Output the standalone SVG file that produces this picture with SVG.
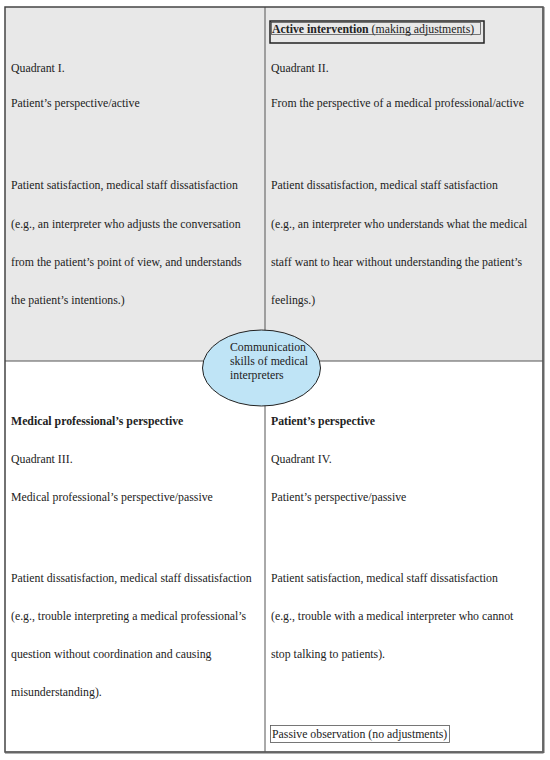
<svg xmlns="http://www.w3.org/2000/svg" width="550" height="760" viewBox="0 0 550 760">
<style>
text{font-family:"Liberation Serif","Times New Roman",serif;font-size:11.8px;fill:#222}
.b{font-weight:bold}
.grid{stroke:#555;stroke-width:1;fill:none}
</style>
<rect x="0" y="0" width="550" height="760" fill="#fff"/>
<g id="quadrants">
<rect x="5" y="7" width="538" height="354" fill="#e8e8e8"/>
<rect x="5" y="361" width="538" height="391" fill="#fff"/>
</g>
<g id="connectors">
<line class="grid" x1="265" y1="7" x2="265" y2="752"/>
<line class="grid" x1="5" y1="361" x2="543" y2="361"/>
<rect x="5" y="7" width="538" height="745" fill="none" stroke="#444" stroke-width="1.5"/>
<line x1="5" y1="752.5" x2="543.5" y2="752.5" stroke="#666" stroke-width="2"/>
<line x1="543.5" y1="7" x2="543.5" y2="753" stroke="#666" stroke-width="2"/>
</g>
<g id="q1">
<text x="11" y="72">Quadrant I.</text>
<text x="11" y="107">Patient’s perspective/active</text>
<text x="11" y="189">Patient satisfaction, medical staff dissatisfaction</text>
<text x="11" y="228">(e.g., an interpreter who adjusts the conversation</text>
<text x="11" y="266">from the patient’s point of view, and understands</text>
<text x="11" y="304">the patient’s intentions.)</text>
</g>
<g id="q2">
<rect x="270" y="21" width="214" height="22" fill="none" stroke="#222" stroke-width="1.5"/>
<rect x="271.5" y="22.5" width="209" height="12" fill="none" stroke="#444" stroke-width="0.7"/>
<text x="272" y="33"><tspan class="b">Active intervention</tspan> (making adjustments)</text>
<text x="271" y="72">Quadrant II.</text>
<text x="271" y="107">From the perspective of a medical professional/active</text>
<text x="271" y="189">Patient dissatisfaction, medical staff satisfaction</text>
<text x="271" y="228">(e.g., an interpreter who understands what the medical</text>
<text x="271" y="266">staff want to hear without understanding the patient’s</text>
<text x="271" y="304">feelings.)</text>
</g>
<g id="q3">
<text x="11" y="425" class="b">Medical professional’s perspective</text>
<text x="11" y="463">Quadrant III.</text>
<text x="11" y="501">Medical professional’s perspective/passive</text>
<text x="11" y="582">Patient dissatisfaction, medical staff dissatisfaction</text>
<text x="11" y="620">(e.g., trouble interpreting a medical professional’s</text>
<text x="11" y="658">question without coordination and causing</text>
<text x="11" y="696">misunderstanding).</text>
</g>
<g id="q4">
<text x="271" y="425" class="b">Patient’s perspective</text>
<text x="271" y="463">Quadrant IV.</text>
<text x="271" y="501">Patient’s perspective/passive</text>
<text x="271" y="582">Patient satisfaction, medical staff dissatisfaction</text>
<text x="271" y="620">(e.g., trouble with a medical interpreter who cannot</text>
<text x="271" y="658">stop talking to patients).</text>
<rect x="270.5" y="725.5" width="179" height="17" fill="none" stroke="#555" stroke-width="0.8"/>
<text x="272" y="738">Passive observation (no adjustments)</text>
</g>
<g id="center">
<ellipse cx="261.5" cy="368" rx="59" ry="38" fill="#bfe4f6" stroke="#222" stroke-width="1"/>
<text x="230" y="351">Communication</text>
<text x="230" y="365">skills of medical</text>
<text x="230" y="379">interpreters</text>
</g>
</svg>
